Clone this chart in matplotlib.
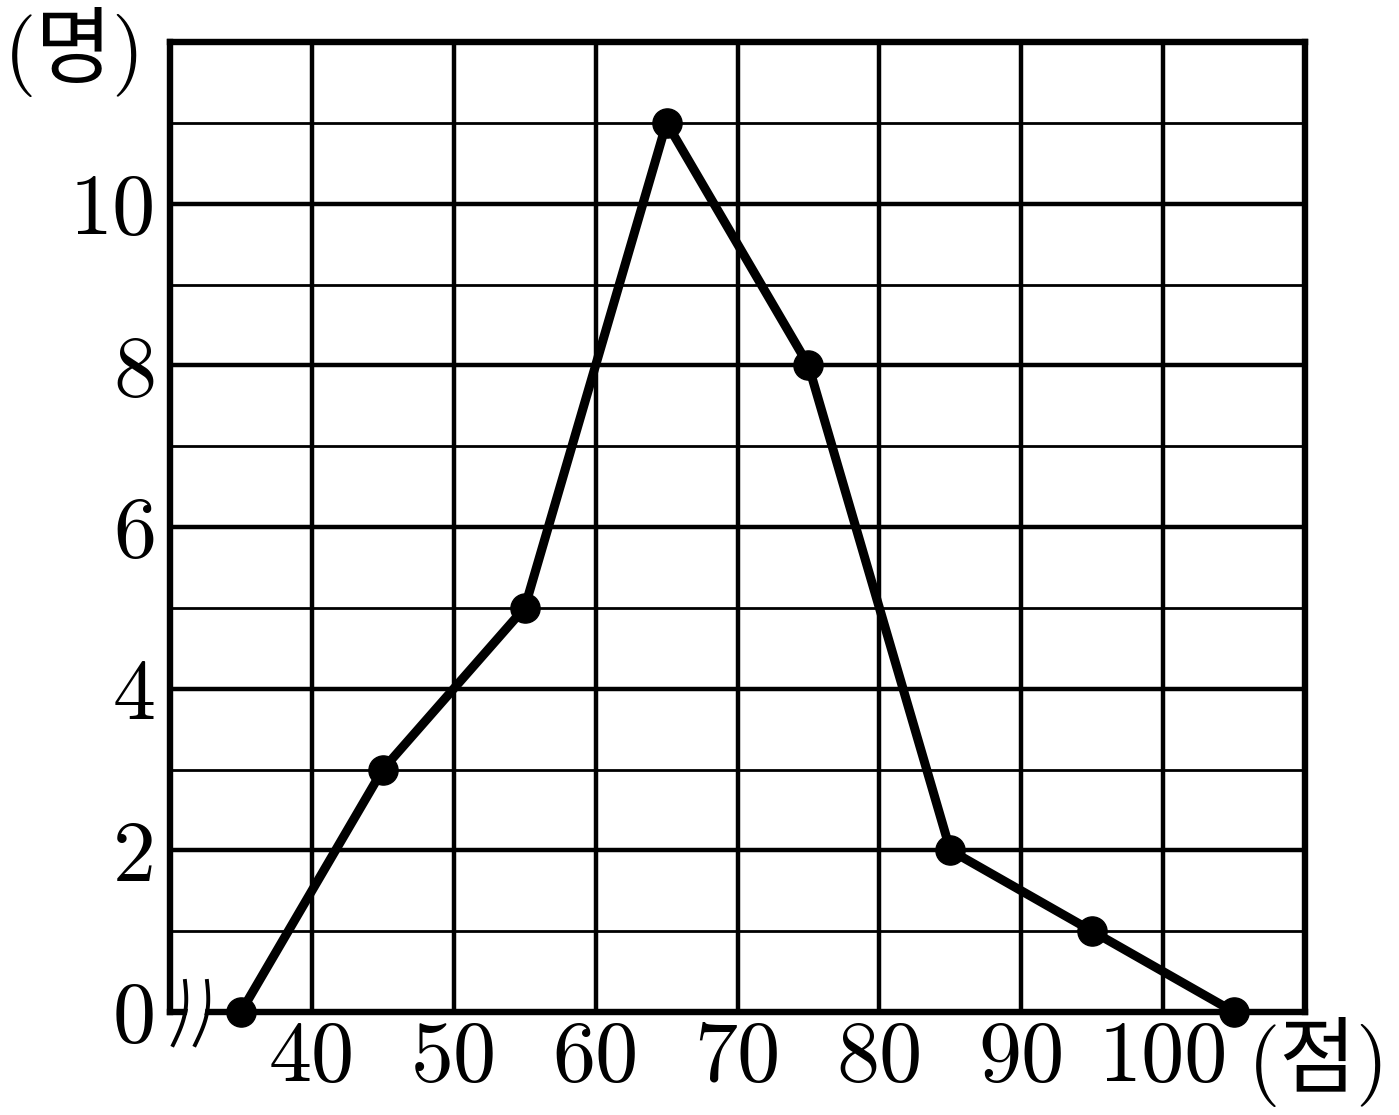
import numpy as np
import matplotlib.pyplot as plt
import matplotlib.transforms as mtransforms

# score classes (midpoints) and number of students
scores = [35, 45, 55, 65, 75, 85, 95, 105]
counts = [0, 3, 5, 11, 8, 2, 1, 0]

x_ticks = [40, 50, 60, 70, 80, 90, 100]
y_major = [0, 2, 4, 6, 8, 10]
y_minor = [1, 3, 5, 7, 9, 11]

fig = plt.figure(figsize=(13.99, 11.15), dpi=100)
ax = fig.add_axes([170 / 1399, 1 - 1012 / 1115, 1135 / 1399, 970 / 1115])

ax.set_xlim(30, 110)
ax.set_ylim(0, 12)

# grid
for x in x_ticks:
    ax.axvline(x, color='black', lw=3.2, zorder=1)
for y in y_major[1:]:
    ax.axhline(y, color='black', lw=3.2, zorder=1)
for y in y_minor:
    ax.axhline(y, color='black', lw=2.0, zorder=1)

for s in ax.spines.values():
    s.set_linewidth(4.6)
    s.set_zorder(2)

ax.plot(scores, counts, color='black', lw=6.5, marker='o', markersize=21,
        clip_on=False, zorder=5)

num_font = 'cmr10'
ax.set_xticks(x_ticks)
ax.set_xticklabels([str(v) for v in x_ticks], fontfamily=num_font, fontsize=62)
ax.set_yticks(y_major)
ax.set_yticklabels([str(v) for v in y_major], fontfamily=num_font, fontsize=62)
ax.tick_params(length=0, pad=6)
ax.tick_params(axis='y', pad=10)

# axis break mark on the bottom-left
trans = mtransforms.Affine2D() + mtransforms.ScaledTranslation(30, 0, ax.transData)
t = np.linspace(0, 1, 40)
cx = 15 + 6 * np.sin(np.pi * t) - 12 * t
cy = 31 - 64 * t
ax.fill(np.concatenate([cx + 3, (cx + 19)[::-1]]), np.concatenate([cy, cy[::-1]]),
        color='white', transform=trans, clip_on=False, zorder=3)
for dx in (0, 22):
    ax.plot(cx + dx, cy, color='black', lw=2.8, transform=trans, clip_on=False, zorder=4)

fam = ['cmr10', 'Noto Sans CJK KR']
fig.text(4 / 1399, 1 - 52 / 1115, '(명)', family=fam, fontsize=60, va='center', ha='left')
fig.text(1248 / 1399, 1 - 1062 / 1115, '(점)', family=fam, fontsize=60, va='center', ha='left')

fig.savefig('out.png', dpi=100)
